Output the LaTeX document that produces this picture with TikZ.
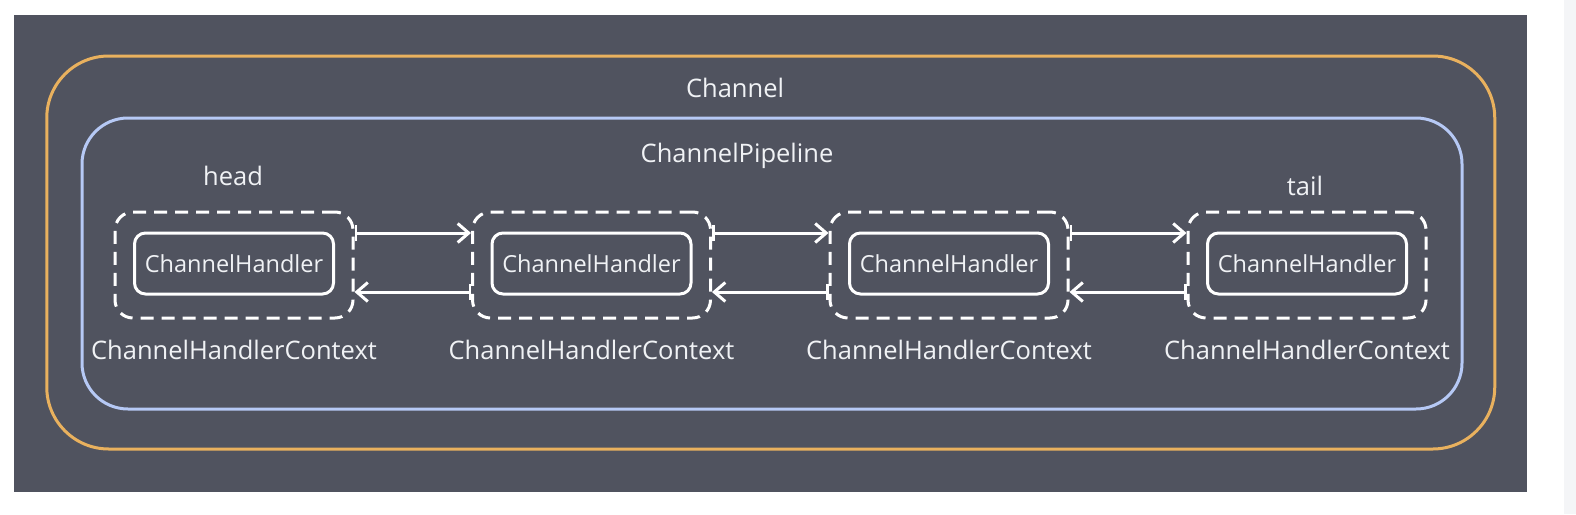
\documentclass[tikz,border=0pt]{standalone}
\usepackage{fontspec}
\setmainfont{Open Sans}
\usetikzlibrary{arrows.meta}
\definecolor{bgdark}{HTML}{50535F}
\definecolor{orangeline}{HTML}{E9B15E}
\definecolor{blueline}{HTML}{B6C9F5}
\definecolor{txt}{HTML}{F0F2F5}
\definecolor{strip}{HTML}{F4F5F7}
\tikzset{
  lbl/.style={text=txt, font=\fontsize{25.5}{28}\selectfont, inner sep=0pt},
  hlbl/.style={text=txt, font=\fontsize{23.5}{26}\selectfont, inner sep=0pt},
  outerbox/.style={draw=orangeline, line width=3pt, rounded corners=62pt, minimum width=1448pt, minimum height=393pt, inner sep=0pt},
  pipebox/.style={draw=blueline, line width=3pt, rounded corners=46pt, minimum width=1380pt, minimum height=291pt, inner sep=0pt},
  ctxbox/.style={draw=white, line width=3pt, dash pattern=on 13pt off 8pt, rounded corners=18pt, minimum width=238pt, minimum height=106pt, inner sep=0pt},
  handlerbox/.style={draw=white, line width=3pt, rounded corners=11pt, minimum width=199pt, minimum height=61pt, inner sep=0pt, hlbl},
  link/.style={draw=white, line width=3pt, {Bar[width=16pt,line width=2.5pt]}-{Straight Barb[length=11pt,width=19pt,line width=3pt]}}
}
\begin{document}
\begin{tikzpicture}[x=1pt,y=-1pt]
\useasboundingbox (0,0) rectangle (1576,514);
\fill[white] (0,0) rectangle (1576,514);
\fill[strip] (1564,0) rectangle (1576,514);
\fill[bgdark] (14,15) rectangle (1527,492);
\node[outerbox] (channel) at (770.75,252.5) {};
\node[pipebox] (pipeline) at (772,263.5) {};
\node[lbl] (channelLbl) at (735,88) {Channel};
\node[lbl] (pipelineLbl) at (737,156) {ChannelPipeline};
\foreach \i/\x in {1/234,2/591.5,3/949,4/1307} {
  \node[ctxbox] (c\i) at (\x,265) {};
  \node[handlerbox] (h\i) at (\x,263.5) {ChannelHandler};
  \node[lbl] (l\i) at (\x,350) {ChannelHandlerContext};
}
\node[lbl] (headLbl) at (233,176) {head};
\node[lbl] (tailLbl) at (1305,186) {tail};
\foreach \a/\b in {1/2,2/3,3/4} {
  \draw[link] ([yshift=32pt]c\a.east) -- ([yshift=32pt]c\b.west);
  \draw[link] ([yshift=-27pt]c\b.west) -- ([yshift=-27pt]c\a.east);
}
\end{tikzpicture}
\end{document}
